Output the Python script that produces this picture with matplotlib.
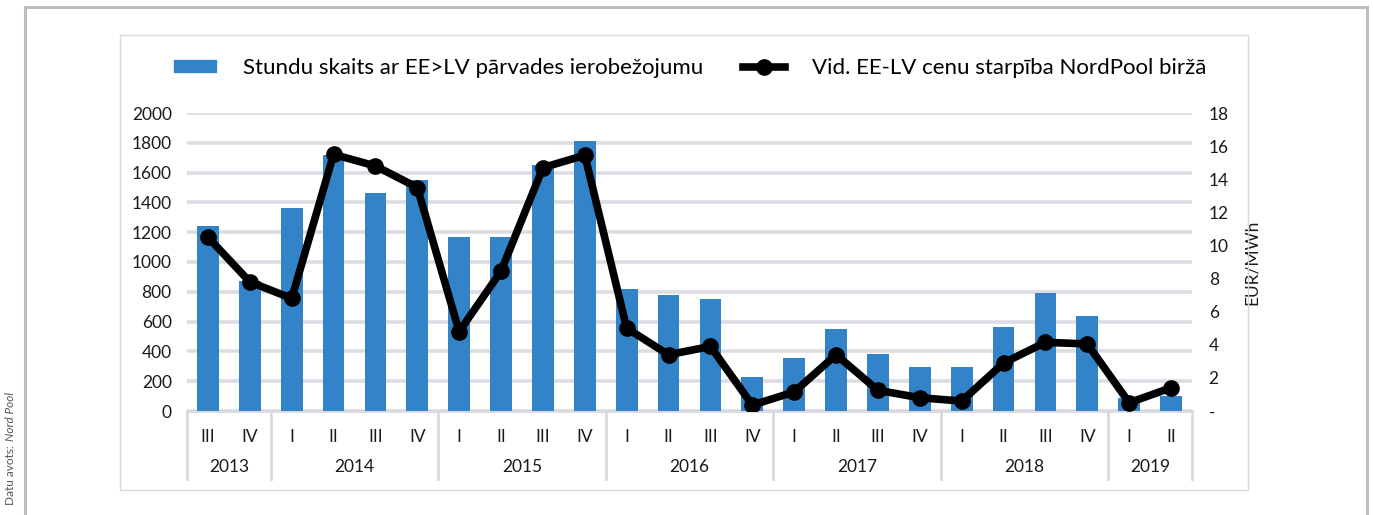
import matplotlib
matplotlib.use("Agg")
import matplotlib.pyplot as plt
from matplotlib.patches import Rectangle
from matplotlib.lines import Line2D
import matplotlib.transforms as mtrans

plt.rcParams['font.family'] = ['Lato', 'DejaVu Sans']

quarters = ["III", "IV",
            "I", "II", "III", "IV",
            "I", "II", "III", "IV",
            "I", "II", "III", "IV",
            "I", "II", "III", "IV",
            "I", "II", "III", "IV",
            "I", "II"]
years = ["2013", "2014", "2015", "2016", "2017", "2018", "2019"]
year_counts = [2, 4, 4, 4, 4, 4, 2]

hours = [1240, 870,
         1365, 1720, 1465, 1550,
         1170, 1170, 1650, 1815,
         820, 780, 750, 225,
         355, 550, 380, 295,
         295, 565, 795, 635,
         85, 100]
price_diff = [10.5, 7.8,
              6.8, 15.5, 14.8, 13.5,
              4.8, 8.45, 14.7, 15.45,
              5.0, 3.4, 3.9, 0.36,
              1.15, 3.4, 1.25, 0.8,
              0.6, 2.9, 4.15, 4.05,
              0.5, 1.4]

label_bars = "Stundu skaits ar EE>LV pārvades ierobežojumu"
label_line = "Vid. EE-LV cenu starpība NordPool biržā"
right_label = "EUR/MWh"
source_prefix = "Datu avots:"
source_name = "Nord Pool"
left_ticks = [0, 200, 400, 600, 800, 1000, 1200, 1400, 1600, 1800, 2000]
right_ticks = [0, 2, 4, 6, 8, 10, 12, 14, 16, 18]
right_ticklabels = ["-", "2", "4", "6", "8", "10", "12", "14", "16", "18"]

W, H = 1373, 515
fig = plt.figure(figsize=(W / 100, H / 100), dpi=100)

# outer frame and inner box
fig.patches.append(Rectangle((25 / W, -0.1), (1367 - 25) / W, (515 - 7) / H + 0.1,
                             transform=fig.transFigure, fill=False,
                             edgecolor='#bdbdbd', linewidth=2.2))
fig.patches.append(Rectangle((120 / W, 1 - 490 / H), (1248 - 120) / W, (490 - 35) / H,
                             transform=fig.transFigure, fill=False,
                             edgecolor='#d9d9d9', linewidth=1.0))

ax = fig.add_axes([187 / W, 1 - 411 / H, (1192 - 187) / W, (411 - 113) / H])
x = list(range(len(quarters)))
bar_color = '#3283c7'
grid_color = '#dcdce3'

ax.bar(x, hours, width=0.52, color=bar_color, zorder=2)
ax.set_xlim(-0.5, len(quarters) - 0.5)
ax.set_ylim(0, 2000)
ax.set_yticks(left_ticks)
ax.set_yticklabels([str(t) for t in left_ticks])
ax.yaxis.grid(True, color=grid_color, linewidth=2.6, zorder=0)
ax.set_axisbelow(True)
ax.set_xticks([])
for s in ax.spines.values():
    s.set_visible(False)
ax.tick_params(axis='y', length=0, pad=11, labelsize=12.5, colors='#1a1a1a')

ax2 = ax.twinx()
ax2.plot(x, price_diff, color='black', linewidth=5.5, marker='o', markersize=11,
         solid_joinstyle='round', zorder=3)
ax2.set_ylim(0, 18)
ax2.set_yticks(right_ticks)
ax2.set_yticklabels(right_ticklabels)
for s in ax2.spines.values():
    s.set_visible(False)
ax2.tick_params(axis='y', length=0, pad=12, labelsize=12.5, colors='#1a1a1a')
ax2.set_ylabel(right_label, fontsize=12.5, labelpad=11, color='#1a1a1a')

# category axis (multi-level)
trans = mtrans.blended_transform_factory(ax.transData, ax.transAxes)
sep_color = '#d9d9e0'
ax.plot([-0.5, len(quarters) - 0.5], [0, 0], transform=trans, color=sep_color,
        linewidth=2, clip_on=False, zorder=1)
for i, q in enumerate(quarters):
    ax.text(i, (411 - 437) / 298, q, transform=trans, ha='center', va='center',
            fontsize=12.5, color='#1a1a1a')
start = 0
bounds = [-0.5]
for yr, n in zip(years, year_counts):
    ax.text(start + (n - 1) / 2, (411 - 467) / 298, yr, transform=trans,
            ha='center', va='center', fontsize=12.5, color='#1a1a1a')
    start += n
    bounds.append(start - 0.5)
for b in bounds:
    ax.plot([b, b], [0, (411 - 479) / 298], transform=trans, color=sep_color,
            linewidth=2, clip_on=False, zorder=1)

# legend
handles = [Rectangle((0, 0), 1, 1, color=bar_color),
           Line2D([0], [0], color='black', linewidth=5.5, marker='o', markersize=11)]
fig.legend(handles, [label_bars, label_line], loc='center',
           bbox_to_anchor=(690 / W, 1 - 68 / H), ncol=2, frameon=False,
           fontsize=16, handlelength=1.9, handleheight=0.45, columnspacing=1.8,
           handletextpad=1.2)

# source note (rotated, reading bottom to top)
t_name = fig.text(11 / W, 1 - 392 / H, source_name, rotation=90, ha='center', va='top',
                  fontsize=8.5, style='italic', color='#555555')
fig.canvas.draw()
bb = t_name.get_window_extent(fig.canvas.get_renderer())
fig.text(11 / W, (bb.y0 - 4) / H, source_prefix, rotation=90, ha='center', va='top',
         fontsize=8.5, color='#555555')

fig.savefig("out.png", dpi=100)
